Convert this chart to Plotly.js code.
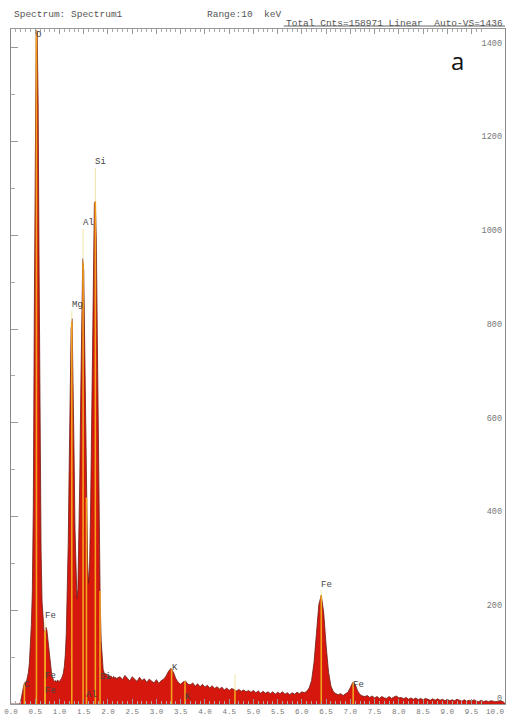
<!DOCTYPE html>
<html><head><meta charset="utf-8">
<script src="https://cdn.plot.ly/plotly-3.0.1.min.js"></script>
<style>html,body{margin:0;padding:0;background:#fff}#chart{width:508px;height:720px}</style>
</head><body><div id="chart"></div>
<script>
// Segment A: 0.00 - 2.20 keV, 0.02 keV channels
const segAStart = 0.0, segAStep = 0.02;
const countsA = [0,0,0,0,0,0,0,0,0,0,
  6,20,30,38,45,44,48,56,68,88,
  120,170,240,420,820,1250,1436,1436,1280,920,
  560,330,220,175,158,152,164,158,138,112,
  88,72,62,55,50,47,50,46,51,49,
  47,52,54,59,66,80,105,150,225,340,
  500,670,800,822,720,540,375,265,225,245,
  335,490,670,840,950,925,780,585,415,305,
  258,290,405,590,800,970,1068,1072,990,790,
  545,345,215,135,92,74,67,63,65,60,
  58,62,56,60,57,55,59,54,57,53,56];
// Segment B: 2.25 - 10.20 keV, 0.05 keV channels
const segBStart = 2.25, segBStep = 0.05;
const countsB = [58,52,61,55,49,58,53,48,57,50,
  54,46,53,49,45,52,44,50,53,60,
  70,76,68,54,46,42,47,49,42,41,
  45,38,43,37,42,36,40,34,39,33,
  37,32,36,30,34,29,33,31,28,31,
  27,30,26,29,25,29,24,28,23,27,
  23,26,22,26,21,25,22,26,21,24,
  20,24,21,25,22,26,24,27,34,50,
  88,150,212,232,195,125,68,38,26,22,
  20,22,18,22,25,35,46,42,28,20,
  17,16,18,14,17,13,16,12,16,13,
  12,16,12,15,17,13,14,11,14,10,
  13,10,13,9,12,9,12,10,8,11,
  8,11,8,10,7,10,7,9,7,10,
  8,6,9,6,8,6,9,6,5,8,
  5,7,5,7,6,5,6,7,5,0];

// Element marker labels: text, line energy (keV), label height (counts)
const labelText   = ['C','O','Fe','Fe','Fe','Mg','Al','Al','Si','Si','K','K','','Fe','Fe'];
const labelEnergy = [0.277,0.525,0.705,0.705,0.705,1.254,1.487,1.557,1.740,1.836,3.313,3.590,4.62,6.400,7.058];
const labelCounts = [40,1428,188,60,28,851,1026,19,1156,58,77,15,75,254,40];

const xTickVals = [0,0.5,1,1.5,2,2.5,3,3.5,4,4.5,5,5.5,6,6.5,7,7.5,8,8.5,9,9.5,10];
const yTickVals = [0,200,400,600,800,1000,1200,1400];

// build channel energies
const energies = [], counts = [];
countsA.forEach((c,i)=>{energies.push(+(segAStart+i*segAStep).toFixed(3)); counts.push(c);});
countsB.forEach((c,i)=>{energies.push(+(segBStart+i*segBStep).toFixed(3)); counts.push(c);});

function spectrumAt(e){
  for(let i=0;i<energies.length-1;i++){
    if(e>=energies[i] && e<=energies[i+1]){
      const t=(e-energies[i])/(energies[i+1]-energies[i]);
      return counts[i]+(counts[i+1]-counts[i])*t;
    }
  }
  return 0;
}

const orX=[],orY=[],paX=[],paY=[];
labelEnergy.forEach((e,i)=>{
  const h=Math.min(spectrumAt(e),1436);
  orX.push(e,e,null); orY.push(0,h,null);
  const top=labelCounts[i]-12;
  if(top>h){paX.push(e,e,null); paY.push(h,top,null);}
});

const mono = 'Liberation Mono, DejaVu Sans Mono, monospace';
const traces = [
  {x:energies,y:counts,type:'scatter',mode:'lines',fill:'tozeroy',
   fillcolor:'#d5170e',line:{color:'#6e1d14',width:0.8},hoverinfo:'skip'},
  {x:paX,y:paY,type:'scatter',mode:'lines',line:{color:'#f2e6a8',width:1},hoverinfo:'skip'},
  {x:orX,y:orY,type:'scatter',mode:'lines',line:{color:'#f3a21e',width:1.6},hoverinfo:'skip'},
  {x:[0],y:[0],type:'scatter',mode:'markers',marker:{opacity:0},yaxis:'y2',hoverinfo:'skip'}
];

const xTickFont = {family:mono,size:7.5,color:'#777'};
const yTickFont = {family:mono,size:8.5,color:'#777'};
const lastTick = xTickVals[xTickVals.length-1];
const firstY = yTickVals[0];

const annotations = labelText.map((t,i)=>({
  x:labelEnergy[i],y:labelCounts[i],xref:'x',yref:'y',text:t,showarrow:false,
  xanchor:'left',yanchor:'middle',xshift:-2,font:{family:mono,size:9,color:'#444'}
})).filter(a=>a.text!=='');

annotations.push(
  {xref:'paper',yref:'paper',x:0.002,y:1.0222,text:'Spectrum: Spectrum1',showarrow:false,xanchor:'left',yanchor:'middle',font:{family:mono,size:9.5,color:'#555'}},
  {xref:'paper',yref:'paper',x:0.393,y:1.0222,text:'Range:10  keV',showarrow:false,xanchor:'left',yanchor:'middle',font:{family:mono,size:9.5,color:'#555'}},
  {xref:'paper',yref:'paper',x:1.0,y:1.0088,text:'Total Cnts=158971 Linear  Auto-VS=1436',showarrow:false,xanchor:'right',yanchor:'middle',font:{family:mono,size:9.5,color:'#555'}},
  {xref:'paper',yref:'paper',x:0.903,y:0.954,text:'a',showarrow:false,xanchor:'center',yanchor:'middle',font:{family:'Open Sans, Liberation Sans, sans-serif',size:24,color:'#111'}},
  // last x tick label and first y tick label (dropped by the axes at the plot corner)
  {x:lastTick,xref:'x',y:0,yref:'paper',yshift:-8,text:lastTick.toFixed(1),showarrow:false,
   xanchor:'center',yanchor:'middle',font:xTickFont},
  {x:1,xref:'paper',y:firstY,yref:'y',xshift:-1,yshift:5,text:String(firstY),showarrow:false,
   xanchor:'right',yanchor:'middle',font:yTickFont}
);

const layout = {
  width:508,height:720,
  margin:{l:11,r:3,t:29,b:16},
  paper_bgcolor:'#fff',plot_bgcolor:'#fff',
  showlegend:false,
  xaxis:{range:[0,10.19],tickvals:xTickVals,
    ticktext:xTickVals.map(v=>v===lastTick?'':v.toFixed(1)),
    ticks:'inside',ticklen:5,tickcolor:'#999',tickwidth:1,
    minor:{dtick:0.1,ticks:'inside',ticklen:3,tickcolor:'#aaa'},
    showline:true,linecolor:'#999',linewidth:1,mirror:'ticks',
    showgrid:false,zeroline:false,tickfont:xTickFont},
  yaxis:{range:[0,1440],tickvals:yTickVals,showticklabels:false,
    ticks:'inside',ticklen:7,tickcolor:'#999',
    minor:{dtick:100,ticks:'inside',ticklen:4,tickcolor:'#aaa'},
    showline:true,linecolor:'#888',linewidth:1,mirror:true,showgrid:false,zeroline:false},
  yaxis2:{range:[0,1440],overlaying:'y',side:'right',tickvals:yTickVals.slice(1),
    ticks:'',ticklabelposition:'inside',ticklabelshift:-5,showline:false,showgrid:false,zeroline:false,
    tickfont:yTickFont},
  shapes:[{type:'line',xref:'paper',yref:'paper',x0:0.552,x1:1.0,y0:1.0044,y1:1.0044,line:{color:'#666',width:1}}],
  annotations:annotations
};

Plotly.newPlot('chart',traces,layout,{displayModeBar:false,staticPlot:true});
</script>
</body></html>
